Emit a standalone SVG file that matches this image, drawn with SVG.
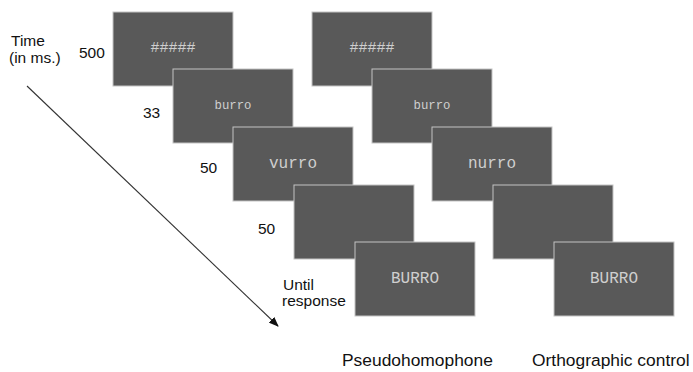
<svg xmlns="http://www.w3.org/2000/svg" width="693" height="372" viewBox="0 0 693 372">
<style>
.scr{fill:#595959;stroke:#c4c4c4;stroke-width:1}
.st{font-family:"Liberation Mono","Courier New",monospace;fill:#cfcfcf;text-anchor:middle;dominant-baseline:central}
.lb{font-family:"Liberation Sans",Arial,sans-serif;fill:#111;font-size:15.5px}
.cap{font-family:"Liberation Sans",Arial,sans-serif;fill:#111;font-size:17.4px}
</style>
<defs>
<marker id="ah" markerWidth="10" markerHeight="8" refX="9" refY="4" orient="auto" markerUnits="userSpaceOnUse">
<path d="M0,0 L10,4 L0,8 Z" fill="#111"/>
</marker>
</defs>
<rect width="693" height="372" fill="#fff"/>
<g id="connectors">
<line x1="27" y1="86" x2="278" y2="326" stroke="#333" stroke-width="1.1" marker-end="url(#ah)"/>
</g>
<g id="labels">
<text class="lb" x="11" y="46">Time</text>
<text class="lb" x="9" y="63">(in ms.)</text>
<text class="lb" x="79" y="58">500</text>
<text class="lb" x="143" y="118">33</text>
<text class="lb" x="200" y="173">50</text>
<text class="lb" x="258" y="234">50</text>
<text class="lb" x="283" y="290">Until</text>
<text class="lb" x="282" y="306">response</text>
<text class="cap" x="342" y="366">Pseudohomophone</text>
<text class="cap" x="532" y="366">Orthographic control</text>
</g>
<g id="pseudo">
<g id="p1"><rect class="scr" x="113" y="12" width="120" height="74"/><text class="st" x="173" y="48" font-size="15">#####</text></g>
<g id="p2"><rect class="scr" x="173" y="69" width="120" height="74"/><text class="st" x="233" y="106" font-size="12.3">burro</text></g>
<g id="p3"><rect class="scr" x="233" y="127" width="120" height="74"/><text class="st" x="293" y="164" font-size="16">vurro</text></g>
<g id="p4"><rect class="scr" x="294" y="185" width="120" height="74"/></g>
<g id="p5"><rect class="scr" x="355" y="242" width="120" height="74"/><text class="st" x="415" y="279" font-size="16">BURRO</text></g>
</g>
<g id="ortho">
<g id="o1"><rect class="scr" x="312" y="12" width="120" height="74"/><text class="st" x="372" y="48" font-size="15">#####</text></g>
<g id="o2"><rect class="scr" x="372" y="69" width="120" height="74"/><text class="st" x="432" y="106" font-size="12.3">burro</text></g>
<g id="o3"><rect class="scr" x="432" y="127" width="120" height="74"/><text class="st" x="492" y="164" font-size="16">nurro</text></g>
<g id="o4"><rect class="scr" x="493" y="185" width="120" height="74"/></g>
<g id="o5"><rect class="scr" x="554" y="242" width="120" height="74"/><text class="st" x="614" y="279" font-size="16">BURRO</text></g>
</g>
</svg>
